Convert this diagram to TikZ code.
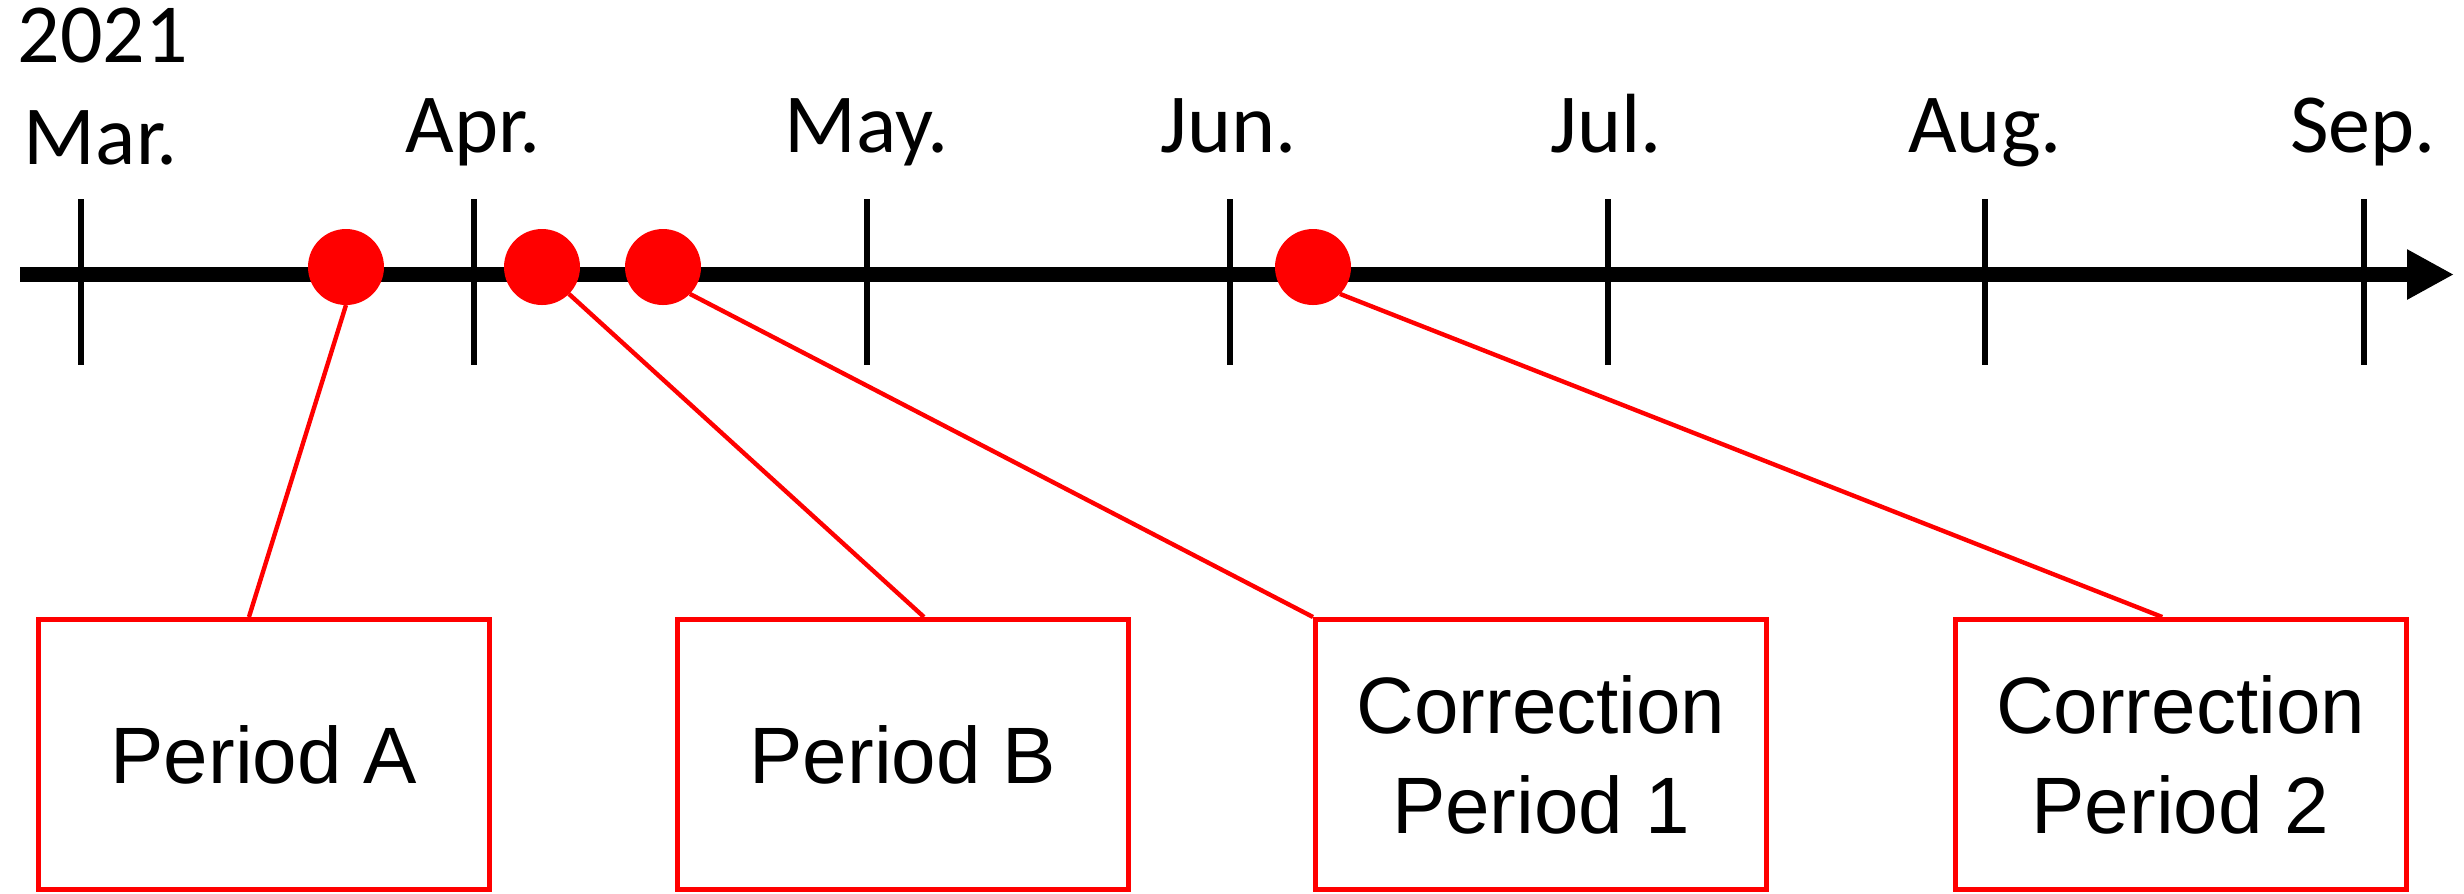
\documentclass[tikz,border=0pt]{standalone}
\usepackage{fontspec}
\setmainfont{Liberation Sans}
\newfontfamily\calfont{Carlito}
\usetikzlibrary{calc,arrows.meta}
\begin{document}
\begin{tikzpicture}[x=0.25pt,y=-0.25pt,
  tickline/.style={line width=1.4pt},
  axisline/.style={line width=3.75pt,-{Triangle[length=11.75pt,width=11.75pt]}},
  mlabel/.style={anchor=base,inner sep=0pt,font=\calfont\fontsize{21}{25}\selectfont},
  dot/.style={circle,fill=red,minimum size=19pt,inner sep=0pt,outer sep=0pt},
  conn/.style={red,line width=1.1pt},
  pbox/.style={draw=red,line width=1.25pt,minimum width=112.75pt,minimum height=67.5pt,
    align=center,inner sep=0pt,font=\fontsize{20}{25}\selectfont}]
\useasboundingbox (0,0) rectangle (2464,893);
% axis
\coordinate (axisL) at (20,274.5);
\coordinate (axisR) at (2454,274.5);
\draw[axisline] (axisL) -- (axisR);
% ticks
\foreach \x/\n in {81/mar,474/apr,867/may,1230/jun,1608/jul,1985/aug,2364/sep}{
  \coordinate (t\n top) at (\x,199);
  \coordinate (t\n bot) at (\x,365);
  \draw[tickline] (t\n top) -- (t\n bot);
}
% labels
\node[mlabel,anchor=base west] (year) at (17,62) {2021};
\node[mlabel] (lmar) at (101,164) {Mar.};
\node[mlabel] (lapr) at (473,152) {Apr.};
\node[mlabel] (lmay) at (867,152) {May.};
\node[mlabel] (ljun) at (1229,152) {Jun.};
\node[mlabel] (ljul) at (1606,152) {Jul.};
\node[mlabel] (laug) at (1985,152) {Aug.};
\node[mlabel] (lsep) at (2363,152) {Sep.};
% dots
\node[dot] (cA) at (346,267) {};
\node[dot] (cB) at (542,267) {};
\node[dot] (cC) at (663,267) {};
\node[dot] (cD) at (1313,267) {};
% boxes
\node[pbox] (bA) at (264,754.5) {Period A};
\node[pbox] (bB) at (903,754.5) {Period B};
\node[pbox] (bC) at (1541,754.5) {Correction\\Period 1};
\node[pbox] (bD) at (2180.5,754.5) {Correction\\Period 2};
% connectors
\draw[conn] (cA.south) -- ($(bA.north west)!0.467!(bA.north east)$);
\draw[conn] (cB.south east) -- ($(bB.north west)!0.546!(bB.north east)$);
\draw[conn] (cC.south east) -- (bC.north west);
\draw[conn] (cD.south east) -- ($(bD.north west)!0.46!(bD.north east)$);
\end{tikzpicture}
\end{document}
